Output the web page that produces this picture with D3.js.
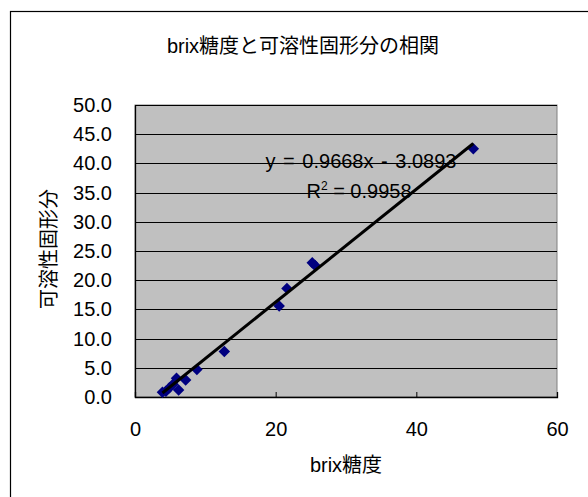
<!DOCTYPE html>
<html>
<head>
<meta charset="utf-8">
<script src="https://cdn.jsdelivr.net/npm/d3@7"></script>
<style>
  body { margin: 0; background: #fff; }
  text { font-family: "Liberation Sans", Arial, "Noto Sans CJK JP", sans-serif; fill: #000; }
</style>
</head>
<body>
<svg id="chart" width="588" height="497"></svg>
<script>
// brix糖度 (x) と 可溶性固形分 (y)
var brix   = [3.9, 4.4, 4.9, 5.4, 5.9, 6.2, 7.2, 8.8, 12.7, 20.5, 21.6, 25.2, 25.6, 48.1];
var solids = [0.8, 1.0, 1.6, 2.2, 3.2, 1.2, 2.9, 4.7, 7.8, 15.6, 18.6, 23.0, 22.5, 42.5];
var xTicks = [0, 20, 40, 60];
var yTicks = [0, 5, 10, 15, 20, 25, 30, 35, 40, 45, 50];
var slope = 0.9668, intercept = -3.0893, r2 = 0.9958;

var svg = d3.select("#chart");
var margin = {left: 135, right: 31, top: 105, bottom: 100};
var width = 588, height = 497;

// outer chart frame (only left/top visible in the picture)
svg.append("rect")
    .attr("x", 10.5).attr("y", 11.5)
    .attr("width", 700).attr("height", 700)
    .attr("fill", "none").attr("stroke", "#000").attr("stroke-width", 1.2);

svg.append("text")
    .attr("x", 303).attr("y", 53)
    .attr("text-anchor", "middle")
    .style("font-size", "20px")
    .text("brix糖度と可溶性固形分の相関");

var x = d3.scaleLinear().domain([0, 60]).range([margin.left, width - margin.right]);
var y = d3.scaleLinear().domain([0, 50]).range([height - margin.bottom, margin.top]);

// plot area
svg.append("rect")
    .attr("x", x(0)).attr("y", y(50))
    .attr("width", x(60) - x(0)).attr("height", y(0) - y(50))
    .attr("fill", "#c0c0c0").attr("stroke", "#808080").attr("stroke-width", 1);

// gridlines
svg.append("g")
    .selectAll("line")
    .data(yTicks.filter(function(d){ return d > 0; }))
    .enter().append("line")
    .attr("x1", x(0)).attr("x2", x(60))
    .attr("y1", function(d){ return Math.round(y(d)) + 0.5; })
    .attr("y2", function(d){ return Math.round(y(d)) + 0.5; })
    .attr("stroke", "#000").attr("stroke-width", 1);

var yAxis = svg.append("g")
    .attr("transform", "translate(" + x(0) + ",0)")
    .call(d3.axisLeft(y).tickValues(yTicks).tickSize(0).tickPadding(23)
        .tickFormat(d3.format(".1f")));
yAxis.selectAll("text").style("font-size", "20px").style("font-family", "Liberation Sans, Arial, sans-serif");

var xAxis = svg.append("g")
    .attr("transform", "translate(0," + y(0) + ")")
    .call(d3.axisBottom(x).tickValues(xTicks).tickSize(-5).tickPadding(25));
xAxis.selectAll("text").style("font-size", "20px").style("font-family", "Liberation Sans, Arial, sans-serif");
svg.selectAll(".domain").attr("stroke", "#000").attr("stroke-width", 1.3);

// axis titles
svg.append("text")
    .attr("x", 346).attr("y", 472)
    .attr("text-anchor", "middle")
    .style("font-size", "20px")
    .text("brix糖度");

svg.append("text")
    .attr("transform", "translate(56,249) rotate(-90)")
    .attr("text-anchor", "middle")
    .style("font-size", "20px")
    .text("可溶性固形分");

// points
svg.append("g")
    .selectAll("path")
    .data(d3.zip(brix, solids))
    .enter().append("path")
    .attr("d", d3.symbol().type(d3.symbolSquare).size(66))
    .attr("transform", function(d){ return "translate(" + x(d[0]) + "," + y(d[1]) + ") rotate(45)"; })
    .attr("fill", "#000080");

// trendline
var xmin = d3.min(brix), xmax = d3.max(brix);
svg.append("line")
    .attr("x1", x(xmin)).attr("y1", y(slope * xmin + intercept))
    .attr("x2", x(xmax)).attr("y2", y(slope * xmax + intercept))
    .attr("stroke", "#000").attr("stroke-width", 3);

// equation labels
svg.append("text")
    .attr("x", 361).attr("y", 168)
    .attr("text-anchor", "middle")
    .style("font-size", "20px")
    .style("word-spacing", "2px")
    .text("y = " + slope + "x - " + Math.abs(intercept));

var rt = svg.append("text")
    .attr("x", 359).attr("y", 198)
    .attr("text-anchor", "middle")
    .style("font-size", "20px");
rt.append("tspan").text("R");
rt.append("tspan").attr("dy", -8).style("font-size", "12px").text("2");
rt.append("tspan").attr("dy", 8).text(" = " + r2);
</script>
</body>
</html>
